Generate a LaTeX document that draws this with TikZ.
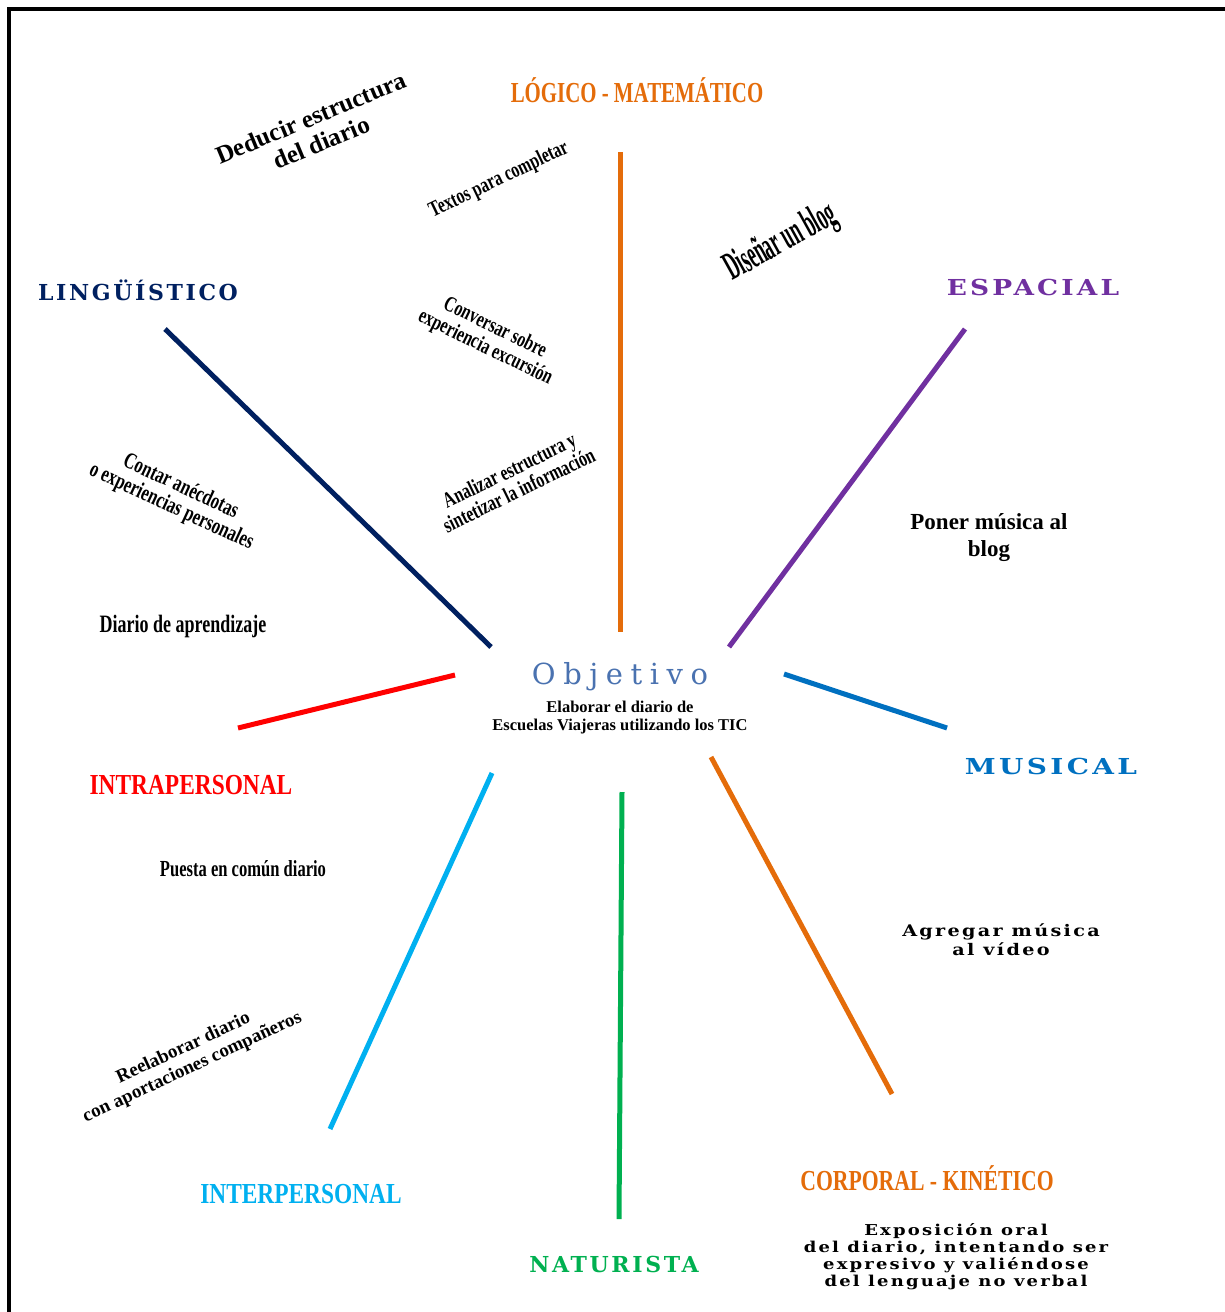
\documentclass[tikz,border=0pt]{standalone}
\usepackage{fontspec}
\setmainfont{Liberation Serif}
\newfontfamily\condfont[FakeStretch=0.72]{Liberation Serif}
\newfontfamily\narrowfont[FakeStretch=0.45]{Liberation Serif}
\newfontfamily\widefont[LetterSpace=12]{DejaVu Serif}
\newfontfamily\objfont[LetterSpace=26]{DejaVu Serif}

\definecolor{ordOrange}{HTML}{E46C0A}
\definecolor{ordNavy}{HTML}{002060}
\definecolor{ordPurple}{HTML}{7030A0}
\definecolor{ordBlue}{HTML}{0070C0}
\definecolor{ordRed}{HTML}{FF0000}
\definecolor{ordCyan}{HTML}{00B0F0}
\definecolor{ordGreen}{HTML}{00B050}
\definecolor{ordSteel}{HTML}{4A72B0}

\begin{document}
\begin{tikzpicture}[x=1pt, y=-1pt]
\tikzstyle{spokeStyle} = [line width = 5pt]
\tikzstyle{condCat} = [inner sep = 0pt, font = \condfont\bfseries\fontsize{29}{30}\selectfont]
\tikzstyle{wideCat} = [inner sep = 0pt, font = \widefont\bfseries\fontsize{22}{24}\selectfont]
\tikzstyle{condText} = [inner sep = 0pt, align = center, font = \condfont\bfseries\fontsize{22}{22}\selectfont]
\tikzstyle{plainText} = [inner sep = 0pt, align = center, font = \bfseries\fontsize{23}{27}\selectfont]
\tikzstyle{wideText} = [inner sep = 0pt, align = center, font = \widefont\bfseries\fontsize{15}{17}\selectfont]
\useasboundingbox (0,0) rectangle (1224,1312);
\draw[line width = 4pt] (8.5,1330) -- (8.5,9) -- (1240,9);
% centre
\node[inner sep = 0pt, text = ordSteel, font = \objfont\fontsize{29}{29}\selectfont] (obj) at (620,677) {Objetivo};
\node[plainText, font = \bfseries\fontsize{16.5}{18}\selectfont] (objtext) at (620,718) {Elaborar el diario de\\Escuelas Viajeras utilizando los TIC};
% spokes
\coordinate (lg1) at (620,152);  \coordinate (lg2) at (620,632);
\coordinate (li1) at (165,329);  \coordinate (li2) at (491,647);
\coordinate (es1) at (965,329);  \coordinate (es2) at (729,647);
\coordinate (mu1) at (784,674);  \coordinate (mu2) at (947,728);
\coordinate (ia1) at (455,675);  \coordinate (ia2) at (238,728);
\coordinate (ie1) at (492,773);  \coordinate (ie2) at (330,1129);
\coordinate (na1) at (622,792);  \coordinate (na2) at (619,1219);
\coordinate (co1) at (711,757);  \coordinate (co2) at (892,1094);
\draw[spokeStyle, ordOrange] (lg1) -- (lg2);
\draw[spokeStyle, ordNavy] (li1) -- (li2);
\draw[spokeStyle, ordPurple] (es1) -- (es2);
\draw[spokeStyle, ordBlue] (mu1) -- (mu2);
\draw[spokeStyle, ordRed] (ia1) -- (ia2);
\draw[spokeStyle, ordCyan] (ie1) -- (ie2);
\draw[spokeStyle, ordGreen] (na1) -- (na2);
\draw[spokeStyle, ordOrange] (co1) -- (co2);
% categories
\node[condCat, text = ordOrange] (logico) at (637,90) {LÓGICO - MATEMÁTICO};
\node[condCat, text = ordOrange, xscale = 1.04] (corporal) at (927,1178) {CORPORAL - KINÉTICO};
\node[condCat, text = ordRed, xscale = 1.12] (intra) at (191,785) {INTRAPERSONAL};
\node[condCat, text = ordCyan, xscale = 1.12] (inter) at (301,1194) {INTERPERSONAL};
\node[wideCat, text = ordNavy] (lingu) at (138,290) {LINGÜÍSTICO};
\node[wideCat, text = ordPurple, xscale = 1.2] (espacial) at (1033,287) {ESPACIAL};
\node[wideCat, text = ordBlue, xscale = 1.27] (musical) at (1051,766) {MUSICAL};
\node[wideCat, text = ordGreen] (naturista) at (614,1264) {NATURISTA};
% activities
\node[plainText, font = \bfseries\fontsize{25}{27}\selectfont, rotate = 22.5] (deducir) at (316,130) {Deducir estructura\\del diario};
\node[condText, rotate = 25.6] (textos) at (499,180) {Textos para completar};
\node[condText, font = \narrowfont\bfseries\fontsize{40}{40}\selectfont, rotate = 29] (disenar) at (781,243) {Diseñar un blog};
\node[condText, rotate = -26] (conversar) at (490,338) {Conversar sobre\\experiencia excursión};
\node[condText, rotate = 26] (analizar) at (514,480) {Analizar estructura y\\sintetizar la información};
\node[condText, font = \condfont\bfseries\fontsize{23}{22}\selectfont, rotate = -25] (contar) at (176,497) {Contar anécdotas\\o experiencias personales};
\node[condText, font = \condfont\bfseries\fontsize{25}{25}\selectfont] (diario) at (183,626) {Diario de aprendizaje};
\node[plainText] (poner) at (989,538) {Poner música al\\blog};
\node[condText, font = \condfont\bfseries\fontsize{23}{23}\selectfont] (puesta) at (243,869) {Puesta en común diario};
\node[plainText, font = \bfseries\fontsize{19}{21}\selectfont, rotate = 25] (reelaborar) at (188,1058) {Reelaborar diario\\con aportaciones compañeros};
\node[wideText, font = \widefont\bfseries\fontsize{16}{19}\selectfont, xscale = 1.2] (agregar) at (1001,940) {Agregar música\\al vídeo};
\node[wideText, xscale = 1.2] (exposicion) at (956,1257) {Exposición oral\\del diario, intentando ser\\expresivo y valiéndose\\del lenguaje no verbal};
\end{tikzpicture}
\end{document}
